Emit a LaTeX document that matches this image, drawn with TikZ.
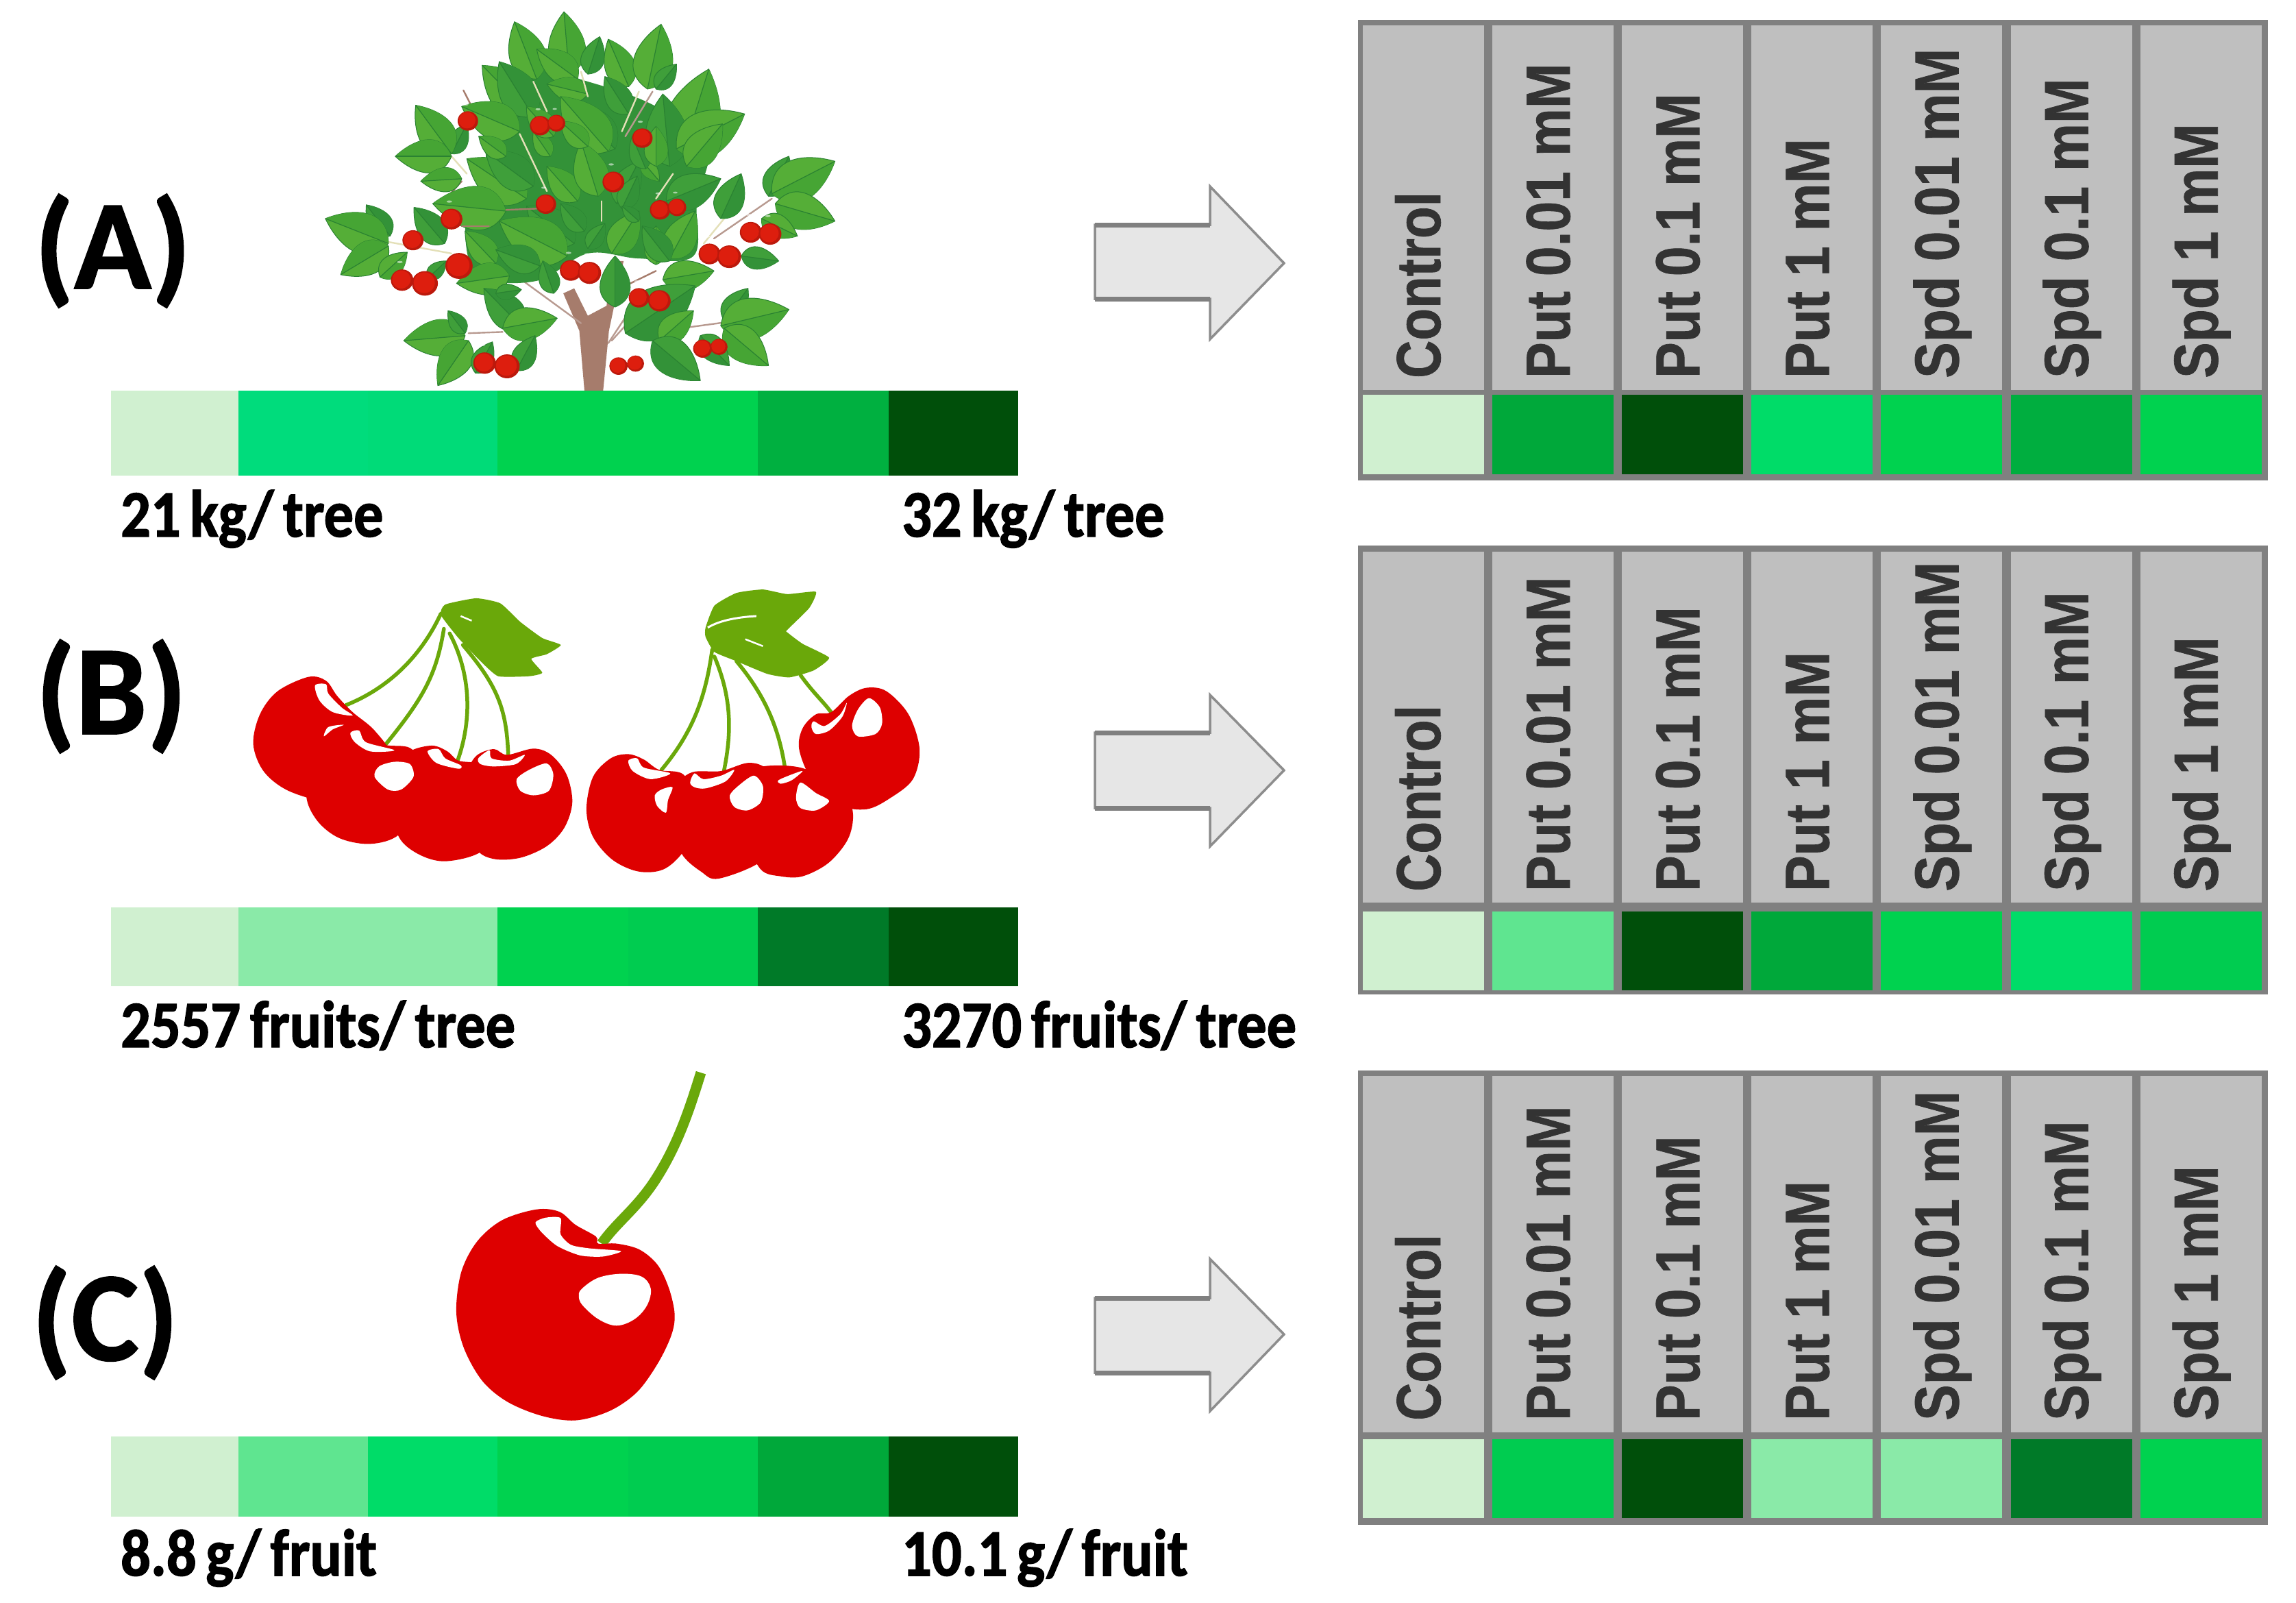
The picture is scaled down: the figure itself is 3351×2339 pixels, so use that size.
\documentclass[tikz,border=0pt]{standalone}
\usepackage{fontspec}
\setmainfont{Liberation Sans}
\newfontfamily\headfont[FakeStretch=0.865,FakeBold=0.8]{Liberation Sans Bold}
\newfontfamily\headfontc[FakeStretch=0.84,FakeBold=0.8]{Liberation Sans Bold}
\newfontfamily\labfont[FakeStretch=0.89,FakeBold=1.5,WordSpace=0.7]{Carlito Bold}
\newfontfamily\capfont[FakeBold=1]{Carlito Bold}
\definecolor{pale}{HTML}{D0F0D0}
\definecolor{gA}{HTML}{00DC7C}
\definecolor{gB}{HTML}{00D24F}
\definecolor{gC}{HTML}{00CC50}
\definecolor{gD}{HTML}{00B040}
\definecolor{gE}{HTML}{00A83A}
\definecolor{gF}{HTML}{007A28}
\definecolor{gG}{HTML}{004F0A}
\definecolor{gH}{HTML}{8AEAA8}
\definecolor{gI}{HTML}{5FE590}
\definecolor{gJ}{HTML}{00DC68}
\definecolor{cellg}{HTML}{BFBFBF}
\definecolor{edgeg}{HTML}{808080}
\definecolor{arrowf}{HTML}{E6E6E6}
\definecolor{cred}{HTML}{DE0000}
\definecolor{lgreen}{HTML}{6AA80A}
\definecolor{leafa}{HTML}{55AE37}
\definecolor{leafb}{HTML}{46A534}
\definecolor{leafc}{HTML}{3F9F3A}
\definecolor{leafd}{HTML}{339238}
\definecolor{leafe}{HTML}{2A8232}
\definecolor{bark}{HTML}{A67C6C}
\definecolor{twig}{HTML}{B89A90}
\definecolor{pedicel}{HTML}{E4E0B8}
\definecolor{fruit}{HTML}{DD1E0E}
\tikzset{
  capt/.style={anchor=base west,inner sep=0pt,font=\capfont\fontsize{186}{186}\selectfont},
  lab/.style={anchor=base west,inner sep=0pt,font=\labfont\fontsize{97}{97}\selectfont},
  headt/.style={anchor=base west,inner sep=0pt,rotate=90,text=black!80,font=\headfont\fontsize{91}{91}\selectfont},
  blockarrow/.style={fill=arrowf,draw=edgeg!90,line width=3.5pt,line join=miter},
  stemline/.style={draw=lgreen,line width=5.5pt,line cap=round},
  shine/.style={fill=white,draw=none},
  redbody/.style={fill=cred,draw=none}
}
\newcommand{\colourbar}[3]{%
  \foreach \xa/\xb/\cc [count=\n] in {#3}{\fill[\cc] (\xa,#1) rectangle (\xb,#2);}%
}
\newcommand{\panelbox}[9]{%
  \fill[edgeg] (1982,#2) rectangle (3310,#7);
  \foreach \i in {0,...,6}{%
    \pgfmathsetmacro{\xl}{1989+189.1*\i}%
    \fill[cellg] (\xl,#3) rectangle (\xl+177,#4);
  }
  \foreach \i/\cc in {#9}{%
    \pgfmathsetmacro{\xl}{1989+189.1*\i}%
    \fill[\cc] (\xl,#5) rectangle (\xl+177,#6);
  }
  \foreach \i/\tx in {0/{\headfontc Control},1/Put 0.01 mM,2/Put 0.1 mM,3/Put 1 mM,4/Spd 0.01 mM,5/Spd 0.1 mM,6/Spd 1 mM}{%
    \pgfmathsetmacro{\xl}{2102+189.1*\i}%
    \node[headt] (head#1\i) at (\xl,#8) {\tx};
  }
}
\newcommand{\blockarr}[5]{%
  \draw[blockarrow] (1598,#2) -- (1766,#2) -- (1766,#1) -- (1874,#3) -- (1766,#5) -- (1766,#4) -- (1598,#4) -- cycle;
  \draw[edgeg,line width=7pt] (1598,#2) -- (1766,#2);
  \draw[edgeg,line width=7pt] (1598,#4) -- (1766,#4);
}
\newcommand{\leafshape}[6]{%
  \pgfmathsetmacro{\bx}{460+.4974*#1}\pgfmathsetmacro{\by}{10+.3635*#2}%
  \pgfmathsetmacro{\tx}{460+.4974*#3}\pgfmathsetmacro{\ty}{10+.3635*#4}%
  \pgfmathsetmacro{\dx}{\tx-\bx}\pgfmathsetmacro{\dy}{\ty-\by}%
  \pgfmathsetmacro{\ax}{\bx+.20*\dx-.48*\dy}\pgfmathsetmacro{\ay}{\by+.20*\dy+.48*\dx}%
  \pgfmathsetmacro{\cx}{\bx+.68*\dx-.30*\dy}\pgfmathsetmacro{\cy}{\by+.68*\dy+.30*\dx}%
  \pgfmathsetmacro{\ex}{\bx+.20*\dx+.48*\dy}\pgfmathsetmacro{\ey}{\by+.20*\dy-.48*\dx}%
  \pgfmathsetmacro{\gx}{\bx+.68*\dx+.30*\dy}\pgfmathsetmacro{\gy}{\by+.68*\dy-.30*\dx}%
  \fill[#5,draw=leafe,line width=1pt] (\bx,\by) .. controls (\ax,\ay) and (\cx,\cy) .. (\tx,\ty) .. controls (\gx,\gy) and (\ex,\ey) .. (\bx,\by) -- cycle;
  \fill[#6] (\bx,\by) .. controls (\ax,\ay) and (\cx,\cy) .. (\tx,\ty) -- cycle;
  \draw[leafe,line width=1.2pt] (\bx,\by) -- (\tx,\ty);
}
\newcommand{\lf}[4]{\leafshape{#1}{#2}{#3}{#4}{leafa}{leafb}}
\newcommand{\ld}[4]{\leafshape{#1}{#2}{#3}{#4}{leafc}{leafd}}
\newcommand{\fruitball}[3]{%
  \fill[fruit!85!black] (460+.4974*#1,10+.3635*#2) ellipse ({.4974*#3} and {.3635*#3*1.3});
  \fill[fruit] (460+.4974*#1-1,10+.3635*#2-1) ellipse ({.4974*#3*.82} and {.3635*#3*1.1});
  \fill[white,opacity=.55] (460+.4974*#1-.1*#3,10+.3635*#2-.8*#3) ellipse ({.4974*#3*.25} and {.3635*#3*.14});
}
\newcommand{\twigline}[5]{\draw[#5,line width=2.4pt,line cap=round] (460+.4974*#1,10+.3635*#2) -- (460+.4974*#3,10+.3635*#4);}
\begin{document}
\begin{tikzpicture}[x=1pt,y=-1pt]
\useasboundingbox (0,0) rectangle (3351,2339);
\fill[white] (0,0) rectangle (3351,2339);

% ---------------- tree
\fill[bark] (460+.4974*790,10+.3635*1540) -- (460+.4974*775,10+.3635*1300) -- (460+.4974*728,10+.3635*1150) -- (460+.4974*760,10+.3635*1130) -- (460+.4974*800,10+.3635*1240) -- (460+.4974*855,10+.3635*1200) -- (460+.4974*870,10+.3635*1020) -- (460+.4974*905,10+.3635*1020) -- (460+.4974*862,10+.3635*1300) -- (460+.4974*845,10+.3635*1540) -- cycle;
\twigline{780}{1270}{590}{1080}{twig}
\twigline{860}{1350}{935}{1195}{twig}
\twigline{870}{1340}{950}{1220}{twig}
\twigline{925}{1110}{1000}{1060}{bark}
\twigline{435}{335}{500}{510}{bark}
\twigline{390}{760}{430}{700}{bark}
\twigline{1170}{930}{1340}{770}{twig}
\twigline{1140}{950}{1200}{850}{pedicel}
\twigline{450}{1310}{550}{1305}{twig}
\twigline{1075}{1290}{1210}{1265}{twig}
\twigline{200}{940}{400}{990}{pedicel}
\twigline{400}{600}{445}{670}{pedicel}
% crown underlay
\fill[leafd] plot[smooth cycle,tension=.6] coordinates {(460+.4974*500,10+.3635*420)(460+.4974*600,10+.3635*240)(460+.4974*800,10+.3635*300)(460+.4974*1000,10+.3635*400)(460+.4974*1150,10+.3635*560)(460+.4974*1120,10+.3635*780)(460+.4974*1110,10+.3635*1000)(460+.4974*950,10+.3635*1010)(460+.4974*800,10+.3635*990)(460+.4974*650,10+.3635*1100)(460+.4974*480,10+.3635*1080)(460+.4974*440,10+.3635*900)(460+.4974*470,10+.3635*740)(460+.4974*500,10+.3635*620)};

% upper crown
\lf{650}{290}{585}{60}
\lf{745}{270}{730}{20}
\ld{800}{270}{835}{120}
\lf{770}{290}{650}{170}
\lf{920}{320}{860}{130}
\lf{975}{330}{1015}{70}
\ld{1000}{330}{1060}{230}
\ld{920}{430}{850}{280}
\lf{630}{430}{490}{235}
\ld{640}{440}{540}{220}
\lf{800}{350}{680}{310}
\ld{400}{590}{445}{470}
\lf{400}{590}{295}{395}
\lf{400}{600}{235}{600}
\lf{430}{690}{310}{700}
\lf{600}{500}{430}{400}
\lf{1075}{600}{1155}{250}
\ld{1040}{640}{1020}{350}
\lf{1060}{570}{1260}{430}
\lf{1090}{640}{1195}{470}
\ld{880}{570}{740}{390}
\lf{860}{580}{720}{360}
\lf{620}{770}{445}{610}
\ld{640}{720}{500}{580}
\lf{560}{600}{480}{520}
\lf{770}{780}{680}{640}
\lf{830}{760}{780}{540}
\ld{885}{790}{950}{620}
\lf{960}{620}{1010}{700}
\ld{1030}{780}{1190}{690}
\ld{900}{810}{945}{680}
\lf{690}{600}{640}{500}
\lf{800}{560}{720}{460}
\ld{970}{650}{930}{520}
\lf{1000}{640}{1000}{480}
\lf{700}{520}{620}{400}
% lower crown
\lf{560}{820}{345}{790}
\ld{760}{950}{620}{800}
\lf{740}{1000}{540}{860}
\lf{530}{1030}{440}{900}
\ld{660}{1040}{530}{975}
\lf{570}{1080}{415}{1110}
\ld{700}{1150}{668}{1020}
\ld{880}{1205}{880}{1000}
\lf{870}{990}{950}{820}
\lf{1000}{1035}{1000}{880}
\lf{1040}{1010}{1115}{820}
\ld{1040}{1020}{960}{880}
\lf{1020}{1095}{1170}{1060}
\ld{800}{970}{850}{870}
\ld{790}{900}{720}{790}
\ld{950}{860}{900}{800}
% far left
\ld{220}{920}{150}{795}
\lf{215}{950}{30}{850}
\lf{215}{960}{75}{1075}
\lf{190}{1085}{270}{985}
\ld{380}{950}{290}{805}
\ld{330}{1090}{385}{1020}
% far right
\ld{1330}{760}{1390}{600}
\lf{1340}{750}{1525}{620}
\lf{1350}{790}{1525}{860}
\ld{1190}{850}{1250}{670}
\lf{1310}{850}{1415}{920}
\ld{1250}{1000}{1360}{1020}
% lower left
\ld{610}{1290}{495}{1130}
\lf{550}{1290}{710}{1250}
\ld{530}{1150}{605}{1135}
\lf{440}{1320}{260}{1340}
\ld{440}{1310}{390}{1220}
\lf{450}{1340}{360}{1520}
\ld{590}{1460}{645}{1320}
\ld{470}{1470}{520}{1345}
% lower right
\ld{910}{1310}{1115}{1120}
\lf{1010}{1340}{1110}{1220}
\ld{990}{1340}{1130}{1500}
\ld{1200}{1260}{1270}{1130}
\lf{1190}{1280}{1390}{1215}
\lf{1200}{1290}{1330}{1440}
\ld{1130}{1320}{1215}{1440}
% pale stalks over the crown
\twigline{640}{300}{680}{420}{pedicel}
\twigline{780}{260}{800}{360}{pedicel}
\twigline{900}{500}{950}{340}{pedicel}
\twigline{910}{520}{990}{340}{twig}
\twigline{1000}{770}{1050}{670}{pedicel}
\twigline{600}{510}{680}{740}{pedicel}
\twigline{840}{780}{840}{860}{pedicel}
\twigline{560}{815}{650}{810}{bark}
\twigline{430}{880}{510}{880}{bark}
% fruit
\foreach \a/\b/\r in {448/458/30,660/477/30,708/467/26,960/527/30,875/703/32,677/792/30,1012/815/30,1062/805/27,400/852/32,287/937/31,422/1040/40,255/1097/33,322/1110/38,750/1058/32,805/1068/34,1157/992/32,1215/1003/35,1278/905/32,1335/912/33,950/1168/30,1010/1180/33,497/1430/33,563/1443/37,890/1442/27,940/1432/25,1137/1372/28,1185/1365/25}{\fruitball{\a}{\b}{\r}}

% ---------------- bars
\colourbar{570}{694}{162/350/pale,348/539/gA,537/728/gA!92!gB,726/919/gB,917/1108/gB!95!gC,1106/1299/gD,1297/1486/gG}
\colourbar{1324}{1439}{162/350/pale,348/539/gH,537/728/gH,726/919/gB,917/1108/gC,1106/1299/gF,1297/1486/gG}
\colourbar{2096}{2213}{162/350/pale,348/539/gI,537/728/gJ,726/919/gB,917/1108/gC,1106/1299/gE,1297/1486/gG}

% ---------------- captions
\node[capt] (capA) at (50,421) {(A)};
\node[capt] (capB) at (52,1071) {(B)};
\node[capt] (capC) at (46,1985) {(C)};
\node[lab] (labA1) at (176,783) {21 kg/ tree};
\node[lab] (labA2) at (1316,783) {32 kg/ tree};
\node[lab] (labB1) at (176,1528) {2557 fruits/ tree};
\node[lab] (labB2) at (1316,1528) {3270 fruits/ tree};
\node[lab] (labC1) at (176,2299) {8.8 g/ fruit};
\node[lab] (labC2) at (1316,2299) {10.1 g/ fruit};

% ---------------- arrows
\blockarr{272}{328}{384}{436}{495}
\blockarr{1014}{1069}{1124}{1179}{1235}
\blockarr{1837}{1894}{1947}{2003}{2059}

% ---------------- panels
\panelbox{A}{29}{37}{569}{576}{692}{701}{552}{0/pale,1/gE,2/gG,3/gJ,4/gB,5/gD!80!gE,6/gB}
\panelbox{B}{796}{805}{1317}{1330}{1445}{1451}{1301}{0/pale,1/gI,2/gG,3/gE,4/gB,5/gJ,6/gC}
\panelbox{C}{1562}{1570}{2090}{2100}{2215}{2225}{2073}{0/pale,1/gC,2/gG,3/gH,4/gH,5/gF,6/gB}

% ---------------- two cherry clusters
\begin{scope}[shift={(360,850)},xscale=.644,yscale=.3375]
\fill[lgreen] plot[smooth cycle,tension=.3] coordinates {(450,95)(520,68)(575,90)(620,170)(670,240)(712,270)(680,310)(645,330)(670,390)(640,405)(570,405)(530,340)(480,240)(440,140)};
\fill[lgreen] plot[smooth cycle,tension=.3] coordinates {(1040,195)(1060,100)(1110,45)(1170,30)(1225,50)(1290,40)(1275,110)(1225,205)(1225,215)(1260,265)(1320,325)(1285,380)(1230,410)(1180,395)(1110,340)(1060,300)(1040,235)};
\draw[stemline] (440,135) .. controls (400,300) and (330,450) .. (225,530);
\draw[stemline] (447,200) .. controls (430,400) and (400,500) .. (315,700);
\draw[stemline] (460,220) .. controls (510,400) and (510,600) .. (478,770);
\draw[stemline] (490,270) .. controls (570,450) and (590,550) .. (593,760);
\draw[stemline] (1055,290) .. controls (1040,500) and (1010,650) .. (940,810);
\draw[stemline] (1060,320) .. controls (1100,500) and (1100,650) .. (1080,830);
\draw[stemline] (1110,340) .. controls (1180,500) and (1210,650) .. (1222,830);
\draw[stemline] (1255,400) .. controls (1285,480) and (1310,520) .. (1328,570);
\draw[white,line width=2.5pt] (485,145) -- (510,165);
\draw[white,line width=3pt] (1045,195) .. controls (1070,165) and (1110,150) .. (1155,145);
\draw[white,line width=2.5pt] (1130,245) -- (1170,275);
\foreach \pts in {
 {(140,408)(180,425)(205,490)(240,560)(290,640)(330,760)(300,900)(200,950)(100,905)(40,820)(15,700)(30,570)(70,470)},
 {(200,600)(245,600)(270,640)(310,700)(370,715)(400,800)(390,950)(345,1090)(280,1130)(210,1105)(160,1030)(135,920)(150,750)(170,650)},
 {(420,705)(455,730)(480,770)(530,790)(565,900)(570,1050)(530,1165)(450,1205)(390,1175)(345,1100)(330,950)(345,800)(370,730)},
 {(560,720)(590,745)(650,718)(690,745)(725,830)(738,950)(720,1060)(680,1140)(620,1190)(560,1195)(520,1150)(495,1000)(500,830)(520,750)},
 {(865,742)(900,765)(935,810)(990,830)(1020,950)(1000,1130)(950,1235)(890,1250)(830,1200)(785,1100)(770,980)(785,840)(825,760)},
 {(1010,820)(1075,815)(1135,780)(1175,800)(1210,880)(1215,1050)(1170,1200)(1070,1280)(1030,1250)(985,1170)(960,1020)(975,880)},
 {(1170,795)(1255,800)(1330,870)(1372,975)(1365,1100)(1320,1210)(1260,1270)(1210,1270)(1165,1240)(1130,1100)(1120,950)(1140,840)},
 {(1405,455)(1450,470)(1500,570)(1525,720)(1510,850)(1460,930)(1405,980)(1340,960)(1280,850)(1252,720)(1260,630)(1290,570)(1325,560)(1365,490)}}{
 \fill[redbody] plot[smooth cycle,tension=.55] coordinates \pts;
}
\foreach \pts in {
 {(155,445)(180,440)(185,480)(215,540)(240,575)(195,560)(165,510)},
 {(175,665)(185,625)(220,615)(195,635)},
 {(235,650)(255,640)(270,690)(335,725)(280,730)(245,690)},
 {(410,730)(435,720)(450,760)(485,790)(480,805)(430,780)},
 {(525,760)(550,725)(555,760)(595,770)(630,745)(610,785)(560,795)(530,785)},
 {(335,775)(370,785)(378,840)(350,895)(320,895)(290,840)(300,795)},
 {(680,782)(695,830)(685,900)(650,920)(620,900)(612,850)(640,810)},
 {(865,770)(885,760)(900,800)(960,825)(915,850)(875,815)},
 {(1005,865)(1015,825)(1035,850)(1075,835)(1105,810)(1085,860)(1040,890)(1015,885)},
 {(1150,835)(1170,880)(1165,950)(1135,985)(1105,970)(1095,920)(1120,870)},
 {(1205,855)(1235,830)(1260,815)(1235,855)(1210,870)},
 {(1255,865)(1290,910)(1320,945)(1290,985)(1255,975)(1245,930)},
 {(965,885)(955,940)(950,995)(930,965)(925,920)(940,895)},
 {(1280,625)(1285,600)(1310,620)(1345,570)(1360,520)(1350,580)(1320,640)(1290,655)},
 {(1410,500)(1435,540)(1440,610)(1425,655)(1385,665)(1372,620)(1385,550)}}{
 \fill[shine] plot[smooth cycle,tension=.5] coordinates \pts;
}
\end{scope}

% ---------------- single cherry
\begin{scope}[shift={(640,1560)},xscale=.333,yscale=.344]
\draw[lgreen,line width=15pt] (1150,15) .. controls (1100,170) and (1050,320) .. (950,470) .. controls (870,590) and (780,650) .. (715,740);
\fill[redbody] plot[smooth cycle,tension=.55] coordinates {(430,595)(530,605)(600,660)(690,710)(700,740)(780,740)(880,765)(960,830)(1010,930)(1035,1040)(1020,1130)(960,1250)(870,1370)(750,1450)(600,1490)(450,1470)(300,1410)(190,1320)(110,1180)(78,1030)(100,860)(170,730)(280,640)};
\fill[shine] plot[smooth cycle,tension=.45] coordinates {(425,650)(470,630)(535,632)(535,700)(580,745)(660,760)(800,772)(720,795)(620,790)(520,750)(450,690)};
\fill[shine] plot[smooth cycle,tension=.6] coordinates {(630,930)(700,885)(800,868)(890,880)(930,930)(915,1000)(860,1060)(780,1088)(700,1060)(630,1000)(615,960)};
\end{scope}
\end{tikzpicture}
\end{document}
